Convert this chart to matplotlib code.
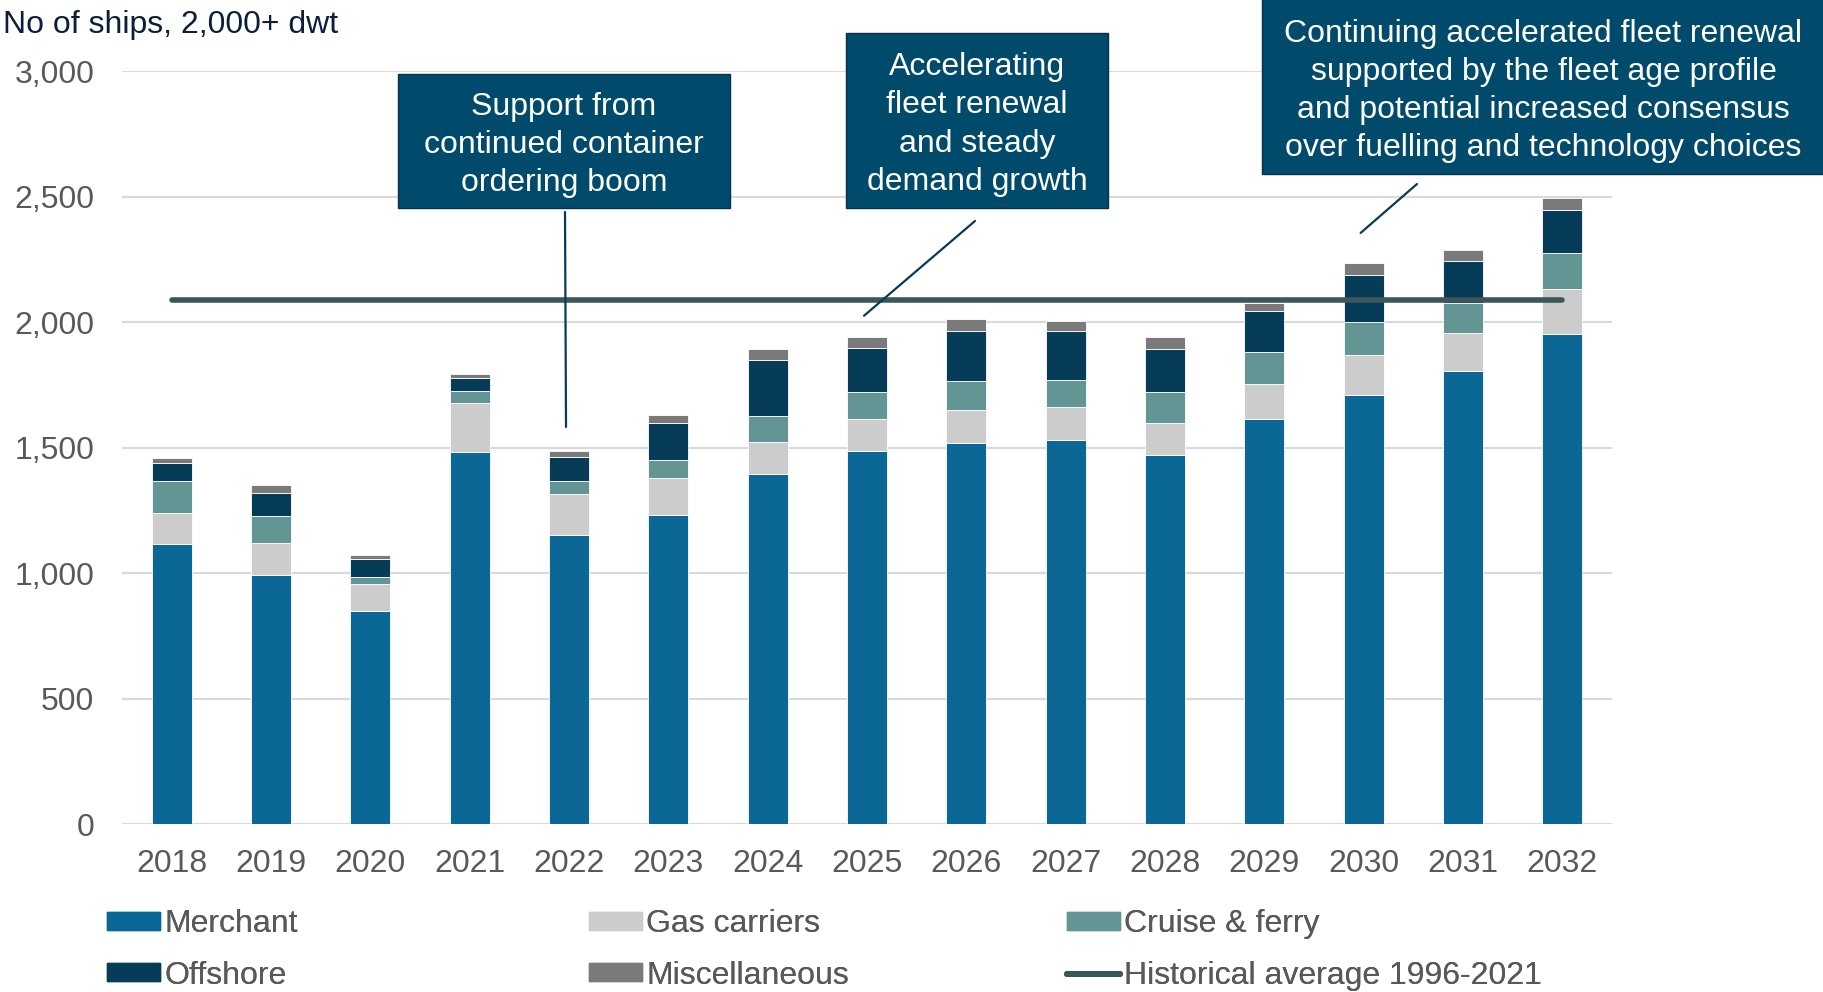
import numpy as np
import matplotlib.pyplot as plt
from matplotlib.patches import Rectangle, Patch
from matplotlib.lines import Line2D

plt.rcParams['font.family'] = ['Liberation Sans', 'DejaVu Sans']

# Datos (numero de barcos, 2,000+ dwt)
years = ['2018', '2019', '2020', '2021', '2022', '2023', '2024', '2025',
         '2026', '2027', '2028', '2029', '2030', '2031', '2032']
merchant = [1115, 992, 849, 1483, 1150, 1231, 1395, 1486, 1518, 1529, 1470, 1614, 1710, 1804, 1951]
gas = [126, 127, 106, 196, 163, 147, 127, 129, 132, 133, 127, 139, 157, 151, 179]
cruise = [125, 108, 30, 45, 53, 73, 103, 108, 116, 107, 126, 126, 134, 120, 143]
offshore = [73, 92, 69, 52, 97, 145, 222, 172, 199, 196, 168, 165, 188, 170, 174]
misc = [21, 30, 16, 16, 22, 33, 46, 46, 45, 40, 49, 30, 48, 42, 47]
hist_avg = 2086

series_names = ['Merchant', 'Gas carriers', 'Cruise & ferry', 'Offshore', 'Miscellaneous']
series_colors = ['#0a6796', '#cccccc', '#639594', '#073c59', '#7a7a7a']
line_color = '#3b5757'
box_color = '#004b6b'
conn_color = '#0b3a55'
tick_color = '#595959'
FS = 23

W, H = 1823, 992
fig = plt.figure(figsize=(W / 100, H / 100), dpi=100)
ax = fig.add_axes([122 / W, 1 - 824 / H, (1612 - 122) / W, (824 - 71) / H])

x = np.arange(len(years))
bottom = np.zeros(len(years))
for vals, name, col in zip([merchant, gas, cruise, offshore, misc], series_names, series_colors):
    ax.bar(x, vals, 0.40, bottom=bottom, color=col, edgecolor='white', linewidth=0.6, label=name, zorder=2)
    bottom += np.array(vals)

# linea de promedio historico
ax.plot([x[0], x[-1]], [hist_avg, hist_avg], color=line_color, lw=4, solid_capstyle='round', zorder=3)

ax.set_xlim(-0.5, len(years) - 0.5)
ax.set_ylim(0, 3000)
ax.set_yticks(np.arange(0, 3001, 500))
ax.set_yticklabels([f'{v:,}' for v in range(0, 3001, 500)])
ax.set_xticks(x)
ax.set_xticklabels(years)
ax.grid(axis='y', color='#d9d9d9', lw=1.5, zorder=0)
ax.set_axisbelow(True)
for s in ax.spines.values():
    s.set_visible(False)
ax.tick_params(axis='x', length=0, pad=18, labelsize=FS, labelcolor=tick_color)
ax.tick_params(axis='y', length=0, pad=20, labelsize=FS, labelcolor=tick_color)

fig.text(3 / W, 1 - 33 / H, 'No of ships, 2,000+ dwt', fontsize=FS, color='#0b1f3a', va='baseline', ha='left')

# Cajas de anotacion (pixeles de figura)
boxes = [
    ((398, 74, 730, 208), 'Support from\ncontinued container\nordering boom'),
    ((846, 33, 1108, 208), 'Accelerating\nfleet renewal\nand steady\ndemand growth'),
    ((1262, -2, 1825, 174), 'Continuing accelerated fleet renewal\nsupported by the fleet age profile\nand potential increased consensus\nover fuelling and technology choices'),
]
for (x0, y0, x1, y1), txt in boxes:
    fig.patches.append(Rectangle((x0 / W, 1 - y1 / H), (x1 - x0) / W, (y1 - y0) / H,
                                 transform=fig.transFigure, facecolor=box_color,
                                 edgecolor='#083049', lw=1, zorder=5))
    fig.text((x0 + x1) / 2 / W, 1 - ((max(y0, 0) + y1) / 2 + 4) / H, txt, ha='center', va='center',
             fontsize=FS, color='white', linespacing=1.36, zorder=6)

# Conectores: punto en datos -> punto en pixeles de figura
connectors = [(4, 1582, 565, 212), (7, 2025, 975, 221), (12, 2355, 1417, 184)]
for xi, yv, px, py in connectors:
    ax.annotate('', xy=(xi - 0.03, yv), xycoords='data', xytext=(px, H - py), textcoords='figure pixels',
                arrowprops=dict(arrowstyle='-', color=conn_color, lw=1.6, shrinkA=0, shrinkB=0), zorder=4)

# Leyenda en tres columnas
handles = [Patch(color=c) for c in series_colors]
hist_handle = Line2D([0], [0], color=line_color, lw=4.3, solid_capstyle='round')
cols = [
    (107, [handles[0], handles[3]], [series_names[0], series_names[3]]),
    (589, [handles[1], handles[4]], [series_names[1], series_names[4]]),
    (1067, [handles[2], hist_handle], [series_names[2], 'Historical average 1996-2021']),
]
for lx, hs, ls in cols:
    leg = fig.legend(hs, ls, loc='upper left', bbox_to_anchor=(lx / W, 1 - 909 / H), frameon=False,
                     fontsize=FS, labelcolor=tick_color, handlelength=1.65, handleheight=0.5,
                     handletextpad=0.15, labelspacing=0.68, borderpad=0, borderaxespad=0)
    fig.add_artist(leg)

fig.savefig('out.png', dpi=100)
